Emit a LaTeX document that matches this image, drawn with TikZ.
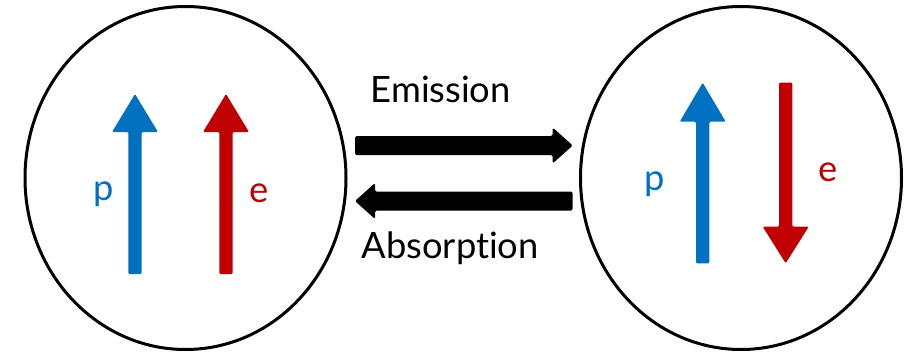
\documentclass[tikz,border=0pt]{standalone}
\usepackage{fontspec}
\setmainfont{Lato}[Ligatures=NoCommon]
\usetikzlibrary{shapes.geometric}
\definecolor{spinblue}{HTML}{0070C0}
\definecolor{spinred}{HTML}{C00000}

% upward spin arrow: colour, x of axis, tip y, head base y, tail y
\newcommand\spinarrow[5]{%
  \fill[#1, rounded corners=1.2pt]
    (#2-6.7,#5) -- (#2-6.7,#4) -- (#2-23,#4) -- (#2,#3) --
    (#2+23,#4) -- (#2+6.7,#4) -- (#2+6.7,#5) -- cycle;}

\tikzset{
  atom/.style={draw=black, line width=3pt, ellipse, inner sep=0pt,
    minimum width=321pt, minimum height=343pt},
  label/.style={inner sep=0pt, font=\fontsize{36.3}{44}\selectfont},
  spinlabel/.style={label, anchor=base},
}

\begin{document}
\begin{tikzpicture}[x=1pt, y=-1pt]
  \useasboundingbox (0,0) rectangle (911,354);

  % the two states
  \node[atom] (left) at (185.5,178) {};
  \node[atom] (right) at (741,178) {};

  % parallel spins
  \spinarrow{spinblue}{135}{94}{132}{274}
  \spinarrow{spinred}{226}{94}{132}{274}
  \node[spinlabel, text=spinblue] (p1) at (104,200.5) {p};
  \node[spinlabel, text=spinred] (e1) at (259,202.5) {e};

  % antiparallel spins
  \spinarrow{spinblue}{702.7}{82.7}{121.7}{263.3}
  \spinarrow{spinred}{785.7}{263.3}{226.7}{82.7}
  \node[spinlabel, text=spinblue] (p2) at (654.7,190.5) {p};
  \node[spinlabel, text=spinred] (e2) at (828,181) {e};

  % transitions between the states
  \coordinate (emA) at (355,145.5);
  \coordinate (emB) at (572.7,145.5);
  \coordinate (abA) at (572.7,201);
  \coordinate (abB) at (355,201);
  \fill[black, rounded corners=1.5pt]
    ([yshift=-9.5pt]emA) -- ([xshift=-20pt,yshift=-9.5pt]emB) --
    ([xshift=-20pt,yshift=-18pt]emB) -- (emB) --
    ([xshift=-20pt,yshift=18pt]emB) -- ([xshift=-20pt,yshift=9.5pt]emB) --
    ([yshift=9.5pt]emA) -- cycle;
  \fill[black, rounded corners=1.5pt]
    ([yshift=-9.5pt]abA) -- ([xshift=20pt,yshift=-9.5pt]abB) --
    ([xshift=20pt,yshift=-18pt]abB) -- (abB) --
    ([xshift=20pt,yshift=18pt]abB) -- ([xshift=20pt,yshift=9.5pt]abB) --
    ([yshift=9.5pt]abA) -- cycle;

  \node[label, anchor=base west] (emission) at (370.5,102.3) {Emission};
  \node[label, anchor=base west] (absorption) at (361.5,258) {Absorption};
\end{tikzpicture}
\end{document}
